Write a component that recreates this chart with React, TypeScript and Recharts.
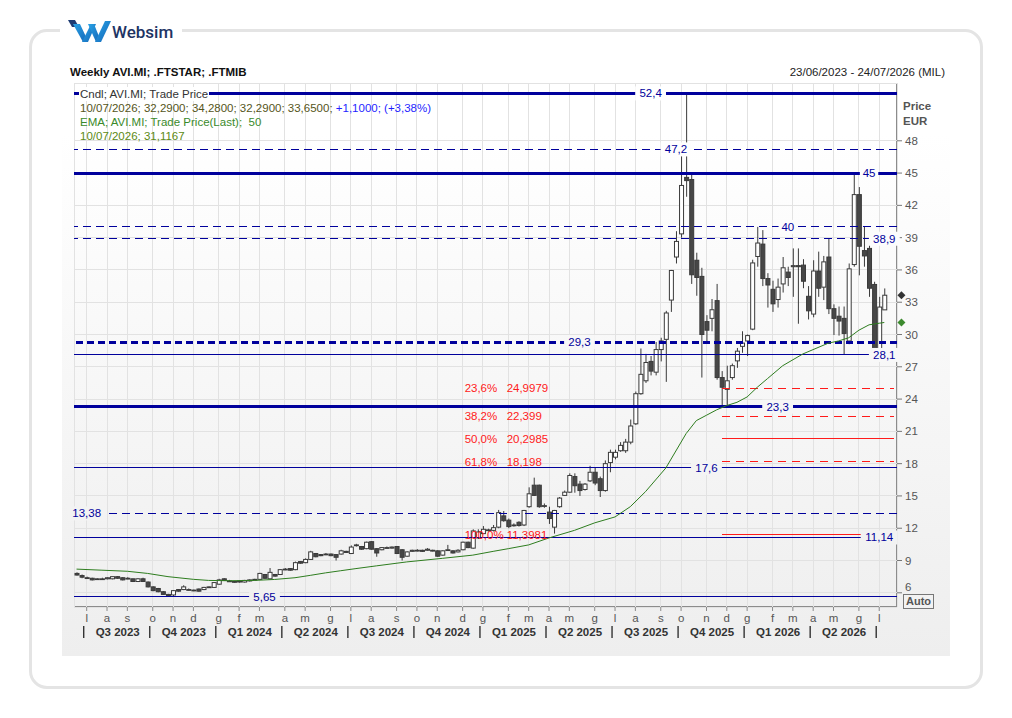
import React from 'react';
import { ComposedChart, Bar, Line, XAxis, YAxis, CartesianGrid, ReferenceLine, ReferenceDot } from 'recharts';

const FONT = '"Liberation Sans", Arial, sans-serif';
const NAVY = '#00009c';
const RED = '#ff1a1a';
const CANDLE = '#3a3a3a';

// ---- categories: weekly slots 23/06/2023 .. 24/07/2026 ----
const START_DATE = Date.UTC(2023, 5, 23);
const SLOT_COUNT = 162;
const DAY = 86400000;
const pad2 = (n: number) => (n < 10 ? '0' : '') + n;
const slotDates = Array.from({ length: SLOT_COUNT }, (_, i) => new Date(START_DATE + i * 7 * DAY));
const categories = slotDates.map(
  (d) => `${pad2(d.getUTCDate())}/${pad2(d.getUTCMonth() + 1)}/${d.getUTCFullYear()}`
);

// ---- weekly OHLC ----
const opens = [
  7.8, 7.6, 7.4, 7.35, 7.3, 7.3, 7.3, 7.3, 7.5, 7.4,
  7.3, 7.3, 7.05, 7.3, 7.0, 6.55, 6.4, 6.1, 5.85, 5.8,
  6.3, 6.3, 6.3, 6.25, 6.35, 6.3, 6.5, 6.5, 6.8, 7.3,
  7.1, 7.05, 7.1, 7.0, 7.1, 7.2, 7.25, 7.7, 7.3, 7.7,
  7.7, 8.2, 8.25, 8.15, 8.9, 8.8, 9.1, 9.65, 9.55, 9.55,
  9.6, 9.55, 9.6, 9.85, 9.65, 10.4, 10.3, 10.1, 10.75, 10.1,
  10.0, 10.2, 10.15, 10.3, 10.0, 9.4, 9.85, 9.9, 9.95, 9.95,
  9.95, 9.9, 9.5, 10.0, 9.9, 9.8, 10.0, 10.7, 10.15, 11.1,
  11.5, 11.8, 11.8, 12.1, 13.15, 12.75, 12.3, 12.55, 12.3, 14.0,
  16.0, 16.0, 14.1, 13.5, 12.1, 14.0, 15.05, 15.35, 16.8, 16.1,
  15.6, 16.4, 17.2, 16.6, 15.5, 18.1, 18.6, 19.2, 19.2, 20.0,
  21.7, 24.5, 25.7, 27.5, 26.5, 28.6, 29.55, 33.2, 37.2, 39.35,
  44.6, 44.4, 36.9, 35.4, 31.2, 31.5, 33.15, 26.0, 24.9, 26.0,
  27.55, 28.9, 29.4, 30.5, 37.25, 38.4, 35.2, 34.2, 33.25, 34.7,
  35.8, 36.3, 36.4, 36.45, 33.55, 31.9, 35.9, 34.4, 37.2, 32.4,
  31.7, 31.5, 29.4, 36.5, 43.0, 37.8, 38.0, 34.65, 28.7, 32.29,
];
const highs = [
  7.9, 7.7, 7.5, 7.4, 7.35, 7.4, 7.45, 7.5, 7.55, 7.45,
  7.45, 7.3, 7.35, 7.4, 7.05, 6.6, 6.45, 6.15, 5.9, 6.25,
  6.35, 6.7, 6.4, 6.3, 6.4, 6.55, 6.6, 7.0, 7.3, 7.35,
  7.2, 7.1, 7.15, 7.2, 7.25, 7.3, 7.85, 7.75, 8.3, 7.75,
  8.2, 8.3, 8.3, 8.9, 8.95, 9.2, 9.9, 9.7, 9.6, 9.7,
  9.65, 9.6, 10.0, 9.9, 10.4, 10.55, 10.35, 10.75, 10.8, 10.15,
  10.25, 10.3, 10.3, 10.35, 10.05, 9.85, 10.0, 10.05, 10.0, 10.15,
  10.0, 9.95, 9.95, 10.45, 9.95, 10.05, 10.75, 10.75, 11.9, 11.9,
  12.2, 11.95, 12.3, 13.7, 13.6, 12.9, 12.45, 12.65, 13.7, 15.8,
  16.7, 16.05, 14.3, 14.0, 13.7, 14.9, 15.5, 17.1, 17.1, 16.4,
  16.2, 17.8, 17.6, 16.8, 18.3, 19.3, 19.3, 20.0, 20.3, 22.1,
  24.7, 28.7, 28.2, 28.0, 29.3, 29.7, 32.2, 36.0, 39.6, 47.2,
  52.4, 45.0, 37.6, 36.2, 31.8, 33.3, 34.7, 26.6, 27.1, 27.3,
  28.75, 30.3, 30.0, 36.95, 40.0, 39.7, 35.7, 35.0, 35.2, 37.2,
  36.3, 38.0, 38.0, 37.0, 34.5, 36.9, 37.7, 37.3, 38.9, 32.8,
  32.6, 32.6, 36.6, 44.9, 43.7, 40.0, 38.3, 34.9, 33.5, 34.28,
];
const lows = [
  7.6, 7.35, 7.3, 7.15, 7.25, 7.2, 7.25, 7.25, 7.3, 7.15,
  7.25, 7.0, 7.0, 7.0, 6.5, 6.15, 6.05, 5.8, 5.65, 5.7,
  6.1, 6.25, 6.2, 6.15, 6.1, 6.25, 6.45, 6.45, 6.75, 7.1,
  7.05, 6.95, 6.95, 6.95, 7.05, 7.15, 7.2, 7.3, 7.25, 7.5,
  7.65, 8.1, 8.05, 8.1, 8.7, 8.75, 9.05, 9.3, 9.4, 9.5,
  9.4, 9.0, 9.55, 9.7, 9.6, 10.3, 10.0, 10.05, 10.0, 9.35,
  9.95, 10.1, 10.1, 9.6, 9.0, 9.35, 9.8, 9.85, 9.8, 9.9,
  9.85, 9.35, 9.45, 9.95, 9.65, 9.75, 9.95, 10.15, 10.1, 11.0,
  11.45, 11.7, 11.7, 12.0, 12.6, 12.0, 12.15, 12.15, 12.2, 13.9,
  15.0, 13.9, 13.9, 12.4, 11.5, 13.9, 15.0, 15.3, 15.3, 15.0,
  15.5, 16.3, 16.0, 14.9, 15.4, 17.2, 18.4, 19.1, 19.0, 19.8,
  21.6, 24.4, 25.5, 26.2, 26.2, 27.5, 25.6, 32.1, 36.6, 39.0,
  42.8, 34.7, 33.6, 26.0, 29.2, 30.3, 25.8, 23.3, 23.4, 25.8,
  26.9, 28.3, 28.0, 30.4, 36.3, 34.5, 32.5, 32.1, 32.5, 33.9,
  34.5, 33.5, 31.0, 34.3, 31.4, 31.6, 33.5, 33.2, 31.9, 29.95,
  29.9, 28.1, 29.1, 36.3, 35.5, 36.3, 33.5, 28.1, 28.3, 32.29,
];
const closes = [
  7.65, 7.45, 7.35, 7.2, 7.3, 7.3, 7.4, 7.5, 7.35, 7.2,
  7.35, 7.05, 7.3, 7.05, 6.55, 6.2, 6.1, 5.85, 5.75, 6.2,
  6.15, 6.55, 6.3, 6.2, 6.15, 6.5, 6.55, 6.95, 7.2, 7.15,
  7.1, 7.0, 7.0, 7.15, 7.2, 7.25, 7.8, 7.35, 7.9, 7.55,
  8.15, 8.2, 8.1, 8.8, 8.75, 9.1, 9.8, 9.35, 9.45, 9.6,
  9.45, 9.3, 9.9, 9.75, 10.25, 10.45, 10.05, 10.7, 10.05, 9.7,
  10.2, 10.2, 10.25, 9.65, 9.3, 9.8, 9.95, 9.95, 9.85, 10.05,
  9.9, 9.4, 9.9, 10.0, 9.7, 9.95, 10.7, 10.2, 11.75, 11.65,
  11.9, 11.85, 12.05, 13.45, 12.7, 12.15, 12.3, 12.25, 13.65, 15.2,
  15.05, 14.0, 14.1, 12.9, 13.65, 14.8, 15.35, 16.9, 15.95, 15.5,
  16.1, 17.2, 16.2, 15.5, 18.0, 19.05, 19.05, 19.7, 20.0, 21.5,
  24.5, 26.3, 27.4, 26.6, 28.6, 29.4, 32.0, 35.95, 38.65, 43.85,
  44.3, 35.55, 35.3, 30.0, 30.4, 32.3, 26.0, 25.1, 25.7, 27.1,
  28.45, 29.2, 29.9, 36.65, 38.5, 35.2, 34.6, 32.85, 34.4, 36.2,
  35.3, 36.4, 36.3, 34.95, 32.2, 35.9, 34.3, 36.75, 32.4, 31.5,
  31.25, 30.1, 36.1, 43.0, 38.2, 37.3, 34.3, 28.6, 32.55, 33.65,
];

// ---- EMA(50) read at sample weeks ----
const emaSlots = [0, 5, 10, 14, 18, 23, 26, 30, 35, 39, 43, 46, 49, 52, 55, 59, 65, 72, 78, 82, 85, 89, 93, 98, 102, 106, 109, 112, 116, 120, 122, 124, 126, 128, 130, 132, 134, 136, 139, 143, 148, 150, 152, 154, 156, 158, 159];
const emaValues = [8.2, 8.1, 8.0, 7.8, 7.5, 7.25, 7.15, 7.12, 7.15, 7.24, 7.4, 7.62, 7.85, 8.05, 8.25, 8.5, 8.87, 9.2, 9.5, 9.85, 10.1, 10.45, 11.1, 11.8, 12.5, 13.05, 14.0, 15.4, 17.6, 20.8, 22.0, 22.5, 23.0, 23.4, 23.7, 24.2, 25.1, 25.9, 27.1, 28.2, 29.2, 29.4, 29.7, 30.4, 30.9, 31.05, 31.1167];

// ---- horizontal levels ----
const levelValues = [52.4, 47.2, 45, 40, 38.9, 29.3, 28.1, 23.3, 17.6, 13.38, 11.14, 5.65];
const levelLabels = ['52,4', '47,2', '45', '40', '38,9', '29,3', '28,1', '23,3', '17,6', '13,38', '11,14', '5,65'];
const levelStyles = [
  { w: 3, dash: undefined, at: 113 },
  { w: 1, dash: '8 5', at: 118 },
  { w: 3, dash: undefined, at: 156 },
  { w: 1, dash: '8 5', at: 140 },
  { w: 1, dash: '8 5', at: 159 },
  { w: 3, dash: '7 4', at: 99 },
  { w: 1, dash: undefined, at: 159 },
  { w: 3, dash: undefined, at: 138 },
  { w: 1, dash: undefined, at: 124 },
  { w: 1, dash: '8 5', at: 2 },
  { w: 1, dash: undefined, at: 158 },
  { w: 1, dash: undefined, at: 37 },
];

// ---- Fibonacci retracement ----
const fibPercents = ['23,6%', '38,2%', '50,0%', '61,8%', '100,0%'];
const fibValues = [24.9979, 22.399, 20.2985, 18.198, 11.3981];
const fibLabels = ['24,9979', '22,399', '20,2985', '18,198', '11,3981'];
const fibDashed = [true, true, false, true, false];

// ---- axis tick labels ----
const yTicks = [6, 9, 12, 15, 18, 21, 24, 27, 30, 33, 36, 39, 42, 45, 48];
const monthLetters = ['g', 'f', 'm', 'a', 'm', 'g', 'l', 'a', 's', 'o', 'n', 'd'];

const lastClose = 33.65;
const lastEma = 31.1167;

// ---- derived ----
const emaBySlot: Record<number, number> = {};
emaSlots.forEach((s, k) => (emaBySlot[s] = emaValues[k]));

const data = categories.map((d, i) => ({
  d,
  range: i < opens.length ? [lows[i], highs[i]] : undefined,
  o: opens[i],
  h: highs[i],
  l: lows[i],
  c: closes[i],
  ema: emaBySlot[i] !== undefined ? emaBySlot[i] : null,
}));

const monthTicks: string[] = [];
const tickInfo: Record<string, { letter: string; sep: boolean; quarter?: string }> = {};
for (let i = 1; i < SLOT_COUNT; i++) {
  const m = slotDates[i].getUTCMonth();
  if (m !== slotDates[i - 1].getUTCMonth()) {
    const isQ = m % 3 === 0;
    monthTicks.push(categories[i]);
    tickInfo[categories[i]] = {
      letter: monthLetters[m],
      sep: isQ,
      quarter: isQ && i + 12 < SLOT_COUNT ? `Q${m / 3 + 1} ${slotDates[i].getUTCFullYear()}` : undefined,
    };
  }
}

const PANEL_TOP = 62;
const PANEL_H = 594;
const bgAt = (y: number) => {
  const t = (y - PANEL_TOP) / PANEL_H;
  const v = t < 0.12 ? 255 : Math.round(255 - ((t - 0.12) / 0.88) * 17);
  return `rgb(${v},${v},${v})`;
};

const Candle = (props: any) => {
  const { x, y, width, height, payload } = props;
  if (!payload || payload.o == null || x == null) return null;
  const { o, h, l, c } = payload;
  const top = Math.min(y, y + height);
  const hh = Math.abs(height);
  const ppu = h - l > 0 ? hh / (h - l) : 0;
  const yo = top + (h - o) * ppu;
  const yc = top + (h - c) * ppu;
  const cx = x + width / 2;
  const up = c >= o;
  const bt = Math.min(yo, yc);
  const bb = Math.max(yo, yc);
  return (
    <g>
      <line x1={cx} x2={cx} y1={top} y2={top + hh} stroke={CANDLE} strokeWidth={1} />
      <rect x={x} y={bt} width={width} height={Math.max(bb - bt, 0.8)} fill={up ? '#ffffff' : '#474747'} stroke={CANDLE} strokeWidth={1} />
    </g>
  );
};

const MonthTick = (props: any) => {
  const { x, y, payload } = props;
  const info = tickInfo[payload.value];
  if (!info) return null;
  return (
    <g fontFamily={FONT}>
      <line x1={x} x2={x} y1={y} y2={y + 4} stroke="#8a8a8a" />
      <text x={x} y={y + 15} textAnchor="middle" fontSize={11.5} fill="#555">{info.letter}</text>
      {info.sep && <line x1={x - 3} x2={x - 3} y1={y + 19} y2={y + 31} stroke="#333" strokeWidth={1.4} />}
      {info.quarter && (
        <text x={x + 31} y={y + 29} textAnchor="middle" fontSize={11.5} fontWeight="bold" fill="#333">{info.quarter}</text>
      )}
    </g>
  );
};

const PriceTick = (props: any) => {
  const { x, y, payload } = props;
  return (
    <text x={x} y={payload.value === 6 ? y - 6 : y} dy={4} fontSize={11.5} fill="#555" fontFamily={FONT} textAnchor="start">
      {payload.value}
    </text>
  );
};

const levelLabel = (text: string) => (p: any) => {
  const w = text.length * 6.2 + 6;
  return (
    <g>
      <rect x={p.cx - w / 2} y={p.cy - 7} width={w} height={14} fill={bgAt(p.cy)} />
      <text x={p.cx} y={p.cy} dy={4} textAnchor="middle" fill={NAVY} fontSize={11.5} fontFamily={FONT}>{text}</text>
    </g>
  );
};

const fibText = (pct: string, val: string) => (p: any) => (
  <g fontFamily={FONT} fontSize={11.5} fill={RED}>
    <text x={p.cx + 2} y={p.cy} dy={4}>{pct}</text>
    <text x={p.cx + 44} y={p.cy} dy={4}>{val}</text>
  </g>
);

const diamond = (color: string) => (p: any) => (
  <path d={`M${p.cx + 7},${p.cy - 4} l4,4 l-4,4 l-4,-4 z`} fill={color} />
);

const Logo = () => (
  <div style={{ position: 'absolute', left: 60, top: 15, width: 122, height: 32, background: '#fff' }}>
    <svg width={122} height={32}>
      <defs>
        <linearGradient id="lg" x1="0" x2="1" y1="0" y2="1">
          <stop offset="0" stopColor="#29a3e6" />
          <stop offset="1" stopColor="#1466b8" />
        </linearGradient>
      </defs>
      <polygon points="8,5 15,5 19,12 12,12" fill="#1d3b73" />
      <polygon points="13,9 20,9 27,24 23,27" fill="url(#lg)" />
      <polygon points="22,27 31,9 36,9 28,27" fill="url(#lg)" />
      <polygon points="28,9 34,9 40,24 36,27" fill="url(#lg)" />
      <polygon points="35,27 45,6 51,6 41,27" fill="url(#lg)" />
      <text x={52} y={23} fontSize={17} fontFamily="Roboto, Arial, sans-serif" fontWeight={500} fill="#1e3464">Websim</text>
    </svg>
  </div>
);

export default function App() {
  const txt: React.CSSProperties = { position: 'absolute', fontSize: 11.5, fontFamily: FONT, whiteSpace: 'pre', lineHeight: '14px' };
  return (
    <div style={{ position: 'absolute', left: 0, top: 0, width: 1012, height: 718, background: '#fff', overflow: 'hidden', fontFamily: FONT }}>
      <div style={{ position: 'absolute', left: 29, top: 29, width: 948, height: 654, border: '3px solid #e4e4e4', borderRadius: 18, background: '#fff' }} />
      <div style={{ position: 'absolute', left: 62, top: PANEL_TOP, width: 888, height: PANEL_H, background: 'linear-gradient(to bottom, #ffffff 0%, #ffffff 12%, #eeeeee 100%)' }} />
      <div style={{ position: 'absolute', left: 74, top: 83, width: 823, height: 524, border: '1px solid #8c8c8c', boxSizing: 'border-box' }} />
      <div style={{ position: 'absolute', left: 0, top: 0 }}>
        <ComposedChart width={1012} height={718} data={data} margin={{ top: 83, right: 65, bottom: 71, left: 74 }}>
          <CartesianGrid stroke="#e2e2e2" shapeRendering="crispEdges" />
          <XAxis dataKey="d" ticks={monthTicks} interval={0} tick={<MonthTick />} tickLine={false} axisLine={false} tickSize={0} tickMargin={0} height={40} />
          <YAxis orientation="right" type="number" domain={[4.68, 53.37]} ticks={yTicks} allowDataOverflow interval={0} width={50} tickSize={5} tickMargin={3} axisLine={false} tickLine={{ stroke: '#777' }} tick={<PriceTick />} />
          {levelValues.map((v, k) => (
            <ReferenceLine key={'lv' + k} y={v} stroke={NAVY} strokeWidth={levelStyles[k].w} strokeDasharray={levelStyles[k].dash} shapeRendering="crispEdges" />
          ))}
          {fibValues.map((v, k) => (
            <ReferenceLine key={'fb' + k} segment={[{ x: categories[127], y: v }, { x: categories[SLOT_COUNT - 1], y: v }]} stroke={RED} strokeWidth={1} strokeDasharray={fibDashed[k] ? '8 6' : undefined} shapeRendering="crispEdges" />
          ))}
          <Bar dataKey="range" barSize={4} shape={<Candle />} isAnimationActive={false} />
          <Line dataKey="ema" type="linear" stroke="#2e7d1f" strokeWidth={1} dot={false} connectNulls isAnimationActive={false} />
          {levelValues.map((v, k) => (
            <ReferenceDot key={'ll' + k} x={categories[levelStyles[k].at]} y={v} r={0} shape={levelLabel(levelLabels[k])} />
          ))}
          {fibValues.map((v, k) => (
            <ReferenceDot key={'ft' + k} x={categories[76]} y={v} r={0} shape={fibText(fibPercents[k], fibLabels[k])} />
          ))}
          <ReferenceDot x={categories[SLOT_COUNT - 1]} y={lastClose} r={0} ifOverflow="visible" shape={diamond('#333')} />
          <ReferenceDot x={categories[SLOT_COUNT - 1]} y={lastEma} r={0} ifOverflow="visible" shape={diamond('#3c8a2e')} />
        </ComposedChart>
      </div>

      <div style={{ ...txt, left: 70, top: 65, fontWeight: 'bold', color: '#111' }}>Weekly AVI.MI; .FTSTAR; .FTMIB</div>
      <div style={{ ...txt, right: 67, top: 65, color: '#222' }}>23/06/2023 - 24/07/2026 (MIL)</div>

      <div style={{ ...txt, left: 79, top: 87, color: '#333', background: '#fff', padding: '0 1px' }}>Cndl; AVI.MI; Trade Price</div>
      <div style={{ ...txt, left: 80, top: 101, color: '#55551a' }}>
        10/07/2026; 32,2900; 34,2800; 32,2900; 33,6500; <span style={{ color: '#1f1fff' }}>+1,1000; (+3,38%)</span>
      </div>
      <div style={{ ...txt, left: 80, top: 115, color: '#3a8a2a' }}>EMA; AVI.MI; Trade Price(Last);  50</div>
      <div style={{ ...txt, left: 80, top: 129, color: '#5c8a14' }}>10/07/2026; 31,1167</div>

      <div style={{ ...txt, left: 903, top: 99, fontWeight: 'bold', color: '#555' }}>Price</div>
      <div style={{ ...txt, left: 903, top: 114, fontWeight: 'bold', color: '#555' }}>EUR</div>
      <div style={{ ...txt, left: 903, top: 594, width: 29, height: 13, lineHeight: '13px', border: '1px solid #777', background: '#f2f2f2', fontWeight: 'bold', color: '#555', fontSize: 11, textAlign: 'center' }}>Auto</div>

      <Logo />
    </div>
  );
}
